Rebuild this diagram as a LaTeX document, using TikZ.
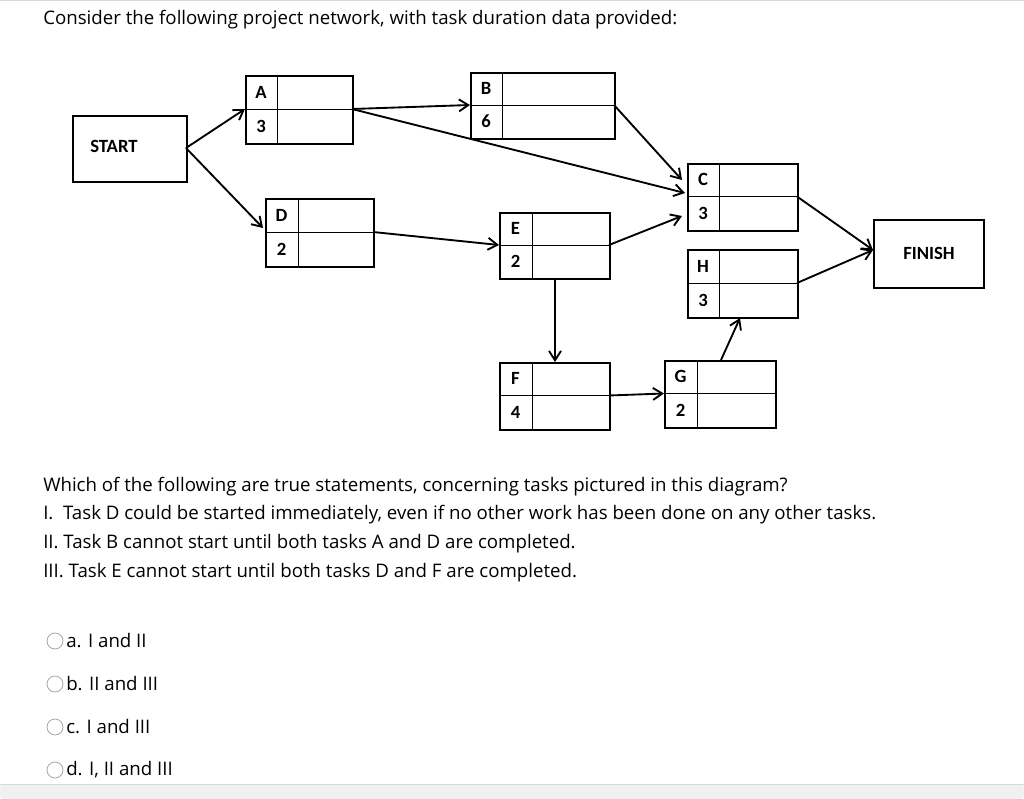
\documentclass[tikz,border=0pt]{standalone}
\usepackage{fontspec}
\setmainfont{Open Sans}
\newfontfamily\diag{Carlito}
\usetikzlibrary{arrows.meta}
\begin{document}
\begin{tikzpicture}[x=0.75pt,y=-0.75pt,
  txt/.style={anchor=west,inner sep=0,font=\fontsize{14}{16}\selectfont},
  lbl/.style={inner sep=0,font=\diag\bfseries\fontsize{14}{16}\selectfont},
  bx/.style={draw,line width=1.6pt},
  cell/.style={draw,line width=0.6pt},
  arr/.style={line width=1.4pt,-{Straight Barb[length=7pt,width=9pt,line width=1.4pt]}},
  rad/.style={draw=gray!70,line width=0.6pt}]
\useasboundingbox (0,0) rectangle (1024,799);
\draw[gray!30,line width=0.8pt] (0,0.5)--(1024,0.5);
\fill[gray!12,rounded corners=3pt] (0,784) rectangle (1024,799);
\draw[gray!30] (0,784)--(1024,784);
\node[txt] (title) at (43,20) {Consider the following project network, with task duration data provided:};
\newcommand\taskbox[8]{%
  \draw[cell] (#6,#3)--(#6,#5);
  \draw[cell] (#2,{(#3+#5)/2})--(#4,{(#3+#5)/2});
  \node[bx,minimum width={(#4-#2)*0.75pt},minimum height={(#5-#3)*0.75pt},inner sep=0,anchor=north west] (#1) at (#2,#3) {};
  \node[lbl] (#1l) at ({(#2+#6)/2},{#3+(#5-#3)/4}) {#7};
  \node[lbl] (#1n) at ({(#2+#6)/2},{#3+3*(#5-#3)/4}) {#8};
  \coordinate (#1L) at (#2,{(#3+#5)/2});
  \coordinate (#1R) at (#4,{(#3+#5)/2});}
\node[bx,minimum width={114*0.75pt},minimum height={66*0.75pt},anchor=north west,inner sep=0] (start) at (72,115) {};
\node[lbl,anchor=west] (startt) at (90,146) {START};
\node[bx,minimum width={110*0.75pt},minimum height={68*0.75pt},anchor=north west,inner sep=0] (finish) at (873,219) {};
\node[lbl,anchor=west] (finisht) at (903,253) {FINISH};
\taskbox{A}{245}{75}{352}{143}{277}{A}{3}
\taskbox{B}{470}{72}{614}{138}{502}{B}{6}
\taskbox{D}{265}{198}{373}{266}{298}{D}{2}
\taskbox{E}{499}{212}{609}{278}{532}{E}{2}
\taskbox{C}{687}{163}{797}{230}{719}{C}{3}
\taskbox{H}{687}{249}{797}{317}{719}{H}{3}
\taskbox{F}{499}{362}{609}{429}{532}{F}{4}
\taskbox{G}{664}{360}{775}{427}{697}{G}{2}
\coordinate (sR) at (186,148);
\coordinate (fL) at (873,250);
\draw[arr] (sR)--(AL);
\draw[arr] (sR)--(263,228);
\draw[arr] (AR)--(BL);
\draw[arr] (AR)--(685,193);
\draw[arr] (BR)--(682,180);
\draw[arr] (DR)--(EL);
\draw[arr] (ER)--(682,216);
\draw[arr] (555,278)--(555,362);
\draw[arr] (FR)--(GL);
\draw[arr] (721,360)--(740,318);
\draw[arr] (CR)--(fL);
\draw[arr] (HR)--(fL);
\node[txt] (q) at (43,487) {Which of the following are true statements, concerning tasks pictured in this diagram?};
\node[txt] (s1) at (43,515) {I.\ \ Task D could be started immediately, even if no other work has been done on any other tasks.};
\node[txt] (s2) at (43,544) {II. Task B cannot start until both tasks A and D are completed.};
\node[txt] (s3) at (43,573) {III. Task E cannot start until both tasks D and F are completed.};
\foreach \y/\t [count=\i] in {641/a. I and II,684/b. II and III,727/c. I and III,770/{d. I, II and III}}{
  \draw[rad] (55,\y) circle (8);
  \node[txt] (o\i) at (66,\y) {\t};}
\end{tikzpicture}
\end{document}
